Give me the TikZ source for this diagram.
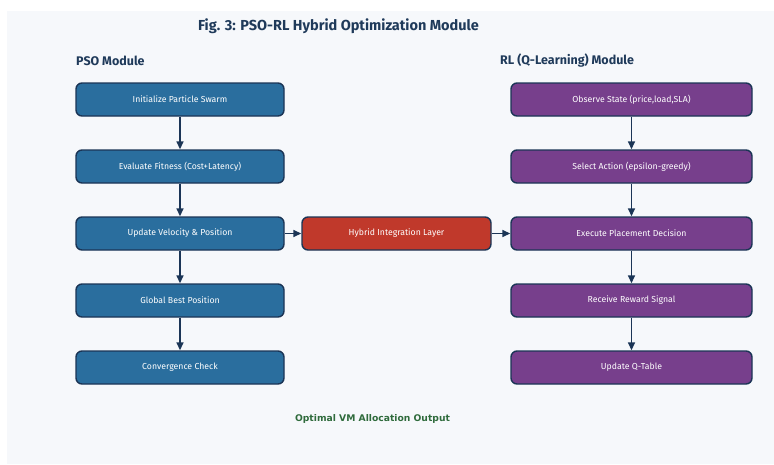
\documentclass[tikz,border=0pt]{standalone}
\usepackage{fontspec}
\setmainfont{Fira Sans}
\newfontfamily\outfont{DejaVu Sans}
\usetikzlibrary{arrows.meta}
\definecolor{panelbg}{HTML}{F6F8FB}
\definecolor{navy}{HTML}{1B3556}
\definecolor{psoblue}{HTML}{2A6E9E}
\definecolor{rlpurple}{HTML}{773F8C}
\definecolor{hybred}{HTML}{C0392B}
\definecolor{titleblue}{HTML}{1F3A5A}
\definecolor{outgreen}{HTML}{2F6B3C}
\tikzset{
  stepbox/.style={draw=navy, line width=1.4pt, rounded corners=6pt, minimum width=208pt, minimum height=33pt, text=white, font=\fontsize{8.7}{10}\selectfont, inner sep=0pt},
  psobox/.style={stepbox, fill=psoblue},
  rlbox/.style={stepbox, fill=rlpurple, minimum width=241pt},
  hybox/.style={stepbox, fill=hybred, minimum width=189pt},
  flow/.style={draw=navy, line width=1.5pt, -{Triangle[width=7pt,length=8pt]}},
  heading/.style={text=titleblue, font=\bfseries\fontsize{12.5}{14}\selectfont, anchor=west, inner sep=0pt}
}
\begin{document}
\begin{tikzpicture}[x=1pt,y=-1pt]
\useasboundingbox (0,0) rectangle (774,464);
\fill[white] (0,0) rectangle (774,464);
\fill[panelbg] (7,11) rectangle (774,464);
\node[text=titleblue, font=\bfseries\fontsize{14.5}{16}\selectfont] (title) at (338.5,26) {Fig. 3: PSO-RL Hybrid Optimization Module};
\node[heading] (psoh) at (76,61) {PSO Module};
\node[heading] (rlh) at (500,61) {RL (Q-Learning) Module};
\node[psobox] (p1) at (180,99.5) {Initialize Particle Swarm};
\node[psobox] (p2) at (180,166.5) {Evaluate Fitness (Cost+Latency)};
\node[psobox] (p3) at (180,233.5) {Update Velocity \& Position};
\node[psobox] (p4) at (180,300.5) {Global Best Position};
\node[psobox] (p5) at (180,367.5) {Convergence Check};
\node[rlbox] (r1) at (631.5,99.5) {Observe State (price,load,SLA)};
\node[rlbox] (r2) at (631.5,166.5) {Select Action (epsilon-greedy)};
\node[rlbox] (r3) at (631.5,233.5) {Execute Placement Decision};
\node[rlbox] (r4) at (631.5,300.5) {Receive Reward Signal};
\node[rlbox] (r5) at (631.5,367.5) {Update Q-Table};
\node[hybox] (h) at (396.5,233.5) {Hybrid Integration Layer};
\node[text=outgreen, font=\outfont\bfseries\fontsize{9.2}{11}\selectfont] (out) at (372.5,419) {Optimal VM Allocation Output};
\draw[flow] (p1) -- (p2);
\draw[flow] (p2) -- (p3);
\draw[flow] (p3) -- (p4);
\draw[flow] (p4) -- (p5);
\draw[flow] (r1) -- (r2);
\draw[flow] (r2) -- (r3);
\draw[flow] (r3) -- (r4);
\draw[flow] (r4) -- (r5);
\draw[flow] (p3) -- (h);
\draw[flow] (h) -- (r3);
\end{tikzpicture}
\end{document}
